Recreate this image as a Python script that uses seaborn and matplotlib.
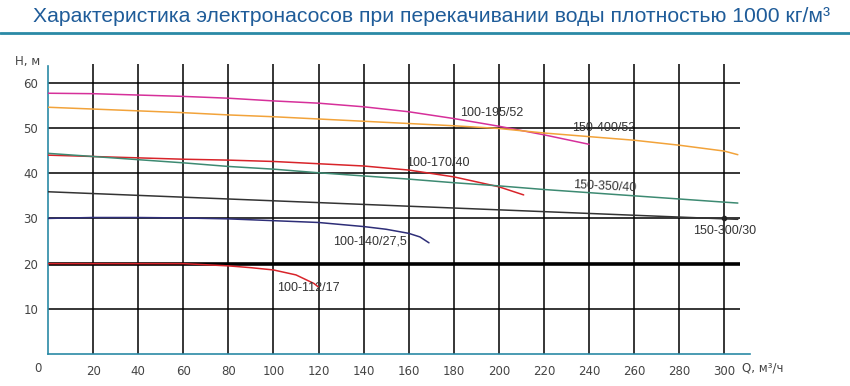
import matplotlib
matplotlib.use("Agg")
import matplotlib.pyplot as plt
import numpy as np
import pandas as pd
import seaborn as sns

# ============================================================
# DATA
# ============================================================

TITLE = "Характеристика электронасосов при перекачивании воды плотностью 1000 кг/м³"

q_195 = [0, 20, 40, 60, 80, 100, 120, 140, 160, 180, 200, 220, 240]
h_195 = [57.7, 57.6, 57.3, 57.0, 56.6, 56.0, 55.5, 54.7, 53.6, 52.1, 50.4, 48.5, 46.4]

q_400 = [0, 20, 40, 60, 80, 100, 120, 140, 160, 180, 200, 220, 240, 260, 280, 300, 306]
h_400 = [54.6, 54.2, 53.8, 53.4, 52.9, 52.5, 52.0, 51.5, 51.0, 50.5, 49.9, 48.9, 48.1, 47.3, 46.2, 44.9, 44.1]

q_170 = [0, 20, 40, 60, 80, 100, 120, 140, 160, 180, 200, 211]
h_170 = [44.0, 43.7, 43.4, 43.1, 42.9, 42.6, 42.1, 41.6, 40.7, 39.2, 37.0, 35.2]

q_350 = [0, 20, 40, 60, 80, 100, 120, 140, 160, 180, 200, 220, 240, 260, 280, 300, 306]
h_350 = [44.4, 43.7, 43.0, 42.3, 41.5, 40.9, 40.1, 39.4, 38.7, 37.9, 37.2, 36.4, 35.7, 35.0, 34.3, 33.6, 33.4]

q_300 = [0, 100, 200, 300, 306]
h_300 = [35.9, 33.9, 31.9, 29.9, 29.8]

q_140 = [0, 20, 40, 60, 80, 100, 120, 140, 150, 160, 165, 169]
h_140 = [30.0, 30.2, 30.2, 30.1, 29.9, 29.5, 29.1, 28.2, 27.6, 26.7, 25.9, 24.6]

q_112 = [0, 20, 40, 60, 80, 90, 100, 110, 118, 120]
h_112 = [20.0, 20.0, 20.0, 20.0, 19.5, 19.1, 18.6, 17.5, 15.6, 14.8]

pumps = ["100-195/52", "150-400/52", "100-170/40", "150-350/40",
         "150-300/30", "100-140/27,5", "100-112/17"]
flows = [q_195, q_400, q_170, q_350, q_300, q_140, q_112]
heads = [h_195, h_400, h_170, h_350, h_300, h_140, h_112]

# rated point marked on 150-300/30
point_q = [300]
point_h = [30]

x_ticks = list(range(20, 301, 20))
y_ticks = list(range(10, 61, 10))

# ============================================================
# STYLE
# ============================================================

COLORS = {
    "100-195/52":   "#d6309a",
    "150-400/52":   "#f2a33a",
    "100-170/40":   "#d8242a",
    "150-350/40":   "#3d8a72",
    "150-300/30":   "#333333",
    "100-140/27,5": "#2e2e78",
    "100-112/17":   "#d8242a",
}

# label anchor (left edge, vertical centre) and rotation
LABELS = {
    "100-195/52":   (183, 53.3, 0),
    "150-400/52":   (232.5, 50.0, 0),
    "100-170/40":   (159, 42.2, 0),
    "150-350/40":   (233, 37.4, -3),
    "150-300/30":   (286, 27.2, 0),
    "100-140/27,5": (126.5, 25.0, 0),
    "100-112/17":   (101.5, 14.6, 0),
}

AXIS_COLOR = "#2a8aa6"
TICK_FONT = "DejaVu Sans"
LABEL_FONT = ["Liberation Sans", "DejaVu Sans"]

sns.set_style("white")

df = pd.concat(
    [pd.DataFrame({"pump": p, "Q": q, "H": h}) for p, q, h in zip(pumps, flows, heads)],
    ignore_index=True,
)

# ============================================================
# FIGURE
# ============================================================

fig = plt.figure(figsize=(8.5, 3.86), dpi=100)
ax = fig.add_axes([48 / 850, 1 - 354 / 386, 702 / 850, 291.5 / 386])
ax.set_xlim(0, 311.4)
ax.set_ylim(0, 64.5)

# grid
for y in y_ticks:
    ax.plot([0, 307], [y, y], color="black", lw=2.6 if y == 20 else 1.1,
            zorder=1, solid_capstyle="butt")
for x in x_ticks:
    ax.plot([x, x], [0, 64.2], color="black", lw=1.1, zorder=1,
            solid_capstyle="butt")

sns.lineplot(data=df, x="Q", y="H", hue="pump", palette=COLORS, sort=False,
             estimator=None, legend=False, lw=1.1, ax=ax, zorder=3)
ax.plot(point_q, point_h, "o", color="#222222", ms=3, zorder=4)

for name, (lx, ly, rot) in LABELS.items():
    ax.text(lx, ly, name, family=LABEL_FONT, fontsize=9, color="#333333",
            ha="left", va="center", rotation=rot, rotation_mode="anchor", zorder=5)

# axes
for side in ["top", "right"]:
    ax.spines[side].set_visible(False)
for side in ["left", "bottom"]:
    ax.spines[side].set_color(AXIS_COLOR)
    ax.spines[side].set_linewidth(1.2)
ax.spines["left"].set_bounds(0, 63.8)

ax.set_xticks(x_ticks)
ax.set_yticks(y_ticks)
ax.set_xticks(list(range(10, 300, 20)), minor=True)
ax.set_yticks(list(range(5, 60, 10)), minor=True)
ax.tick_params(axis="x", which="major", length=0, pad=8, labelsize=8.5,
               labelcolor="#444444")
ax.tick_params(axis="y", which="major", length=5, width=1, color="#222222",
               pad=2, labelsize=8.5, labelcolor="#444444")
ax.tick_params(which="minor", direction="inout", length=10, width=1,
               color="#222222")
for lab in ax.get_xticklabels() + ax.get_yticklabels():
    lab.set_family(TICK_FONT)
ax.set_xlabel("")
ax.set_ylabel("")

fig.text(37.5 / 850, 1 - 368 / 386, "0", family=TICK_FONT, fontsize=8.5,
         color="#444444", ha="center", va="center")
fig.text(15 / 850, 1 - 61.5 / 386, "H, м", family=TICK_FONT, fontsize=8.5,
         color="#444444", ha="left", va="center")
fig.text(742 / 850, 1 - 368 / 386, "Q, м³/ч", family=TICK_FONT, fontsize=8.5,
         color="#444444", ha="left", va="center")

# title with underline
fig.text(33 / 850, 1 - 16 / 386, TITLE, family=LABEL_FONT, fontsize=15.2,
         color="#1f5c99", ha="left", va="center")
fig.add_artist(plt.Line2D([0, 1], [1 - 32.5 / 386] * 2, color=AXIS_COLOR, lw=2))

fig.savefig("out.png", dpi=100)
